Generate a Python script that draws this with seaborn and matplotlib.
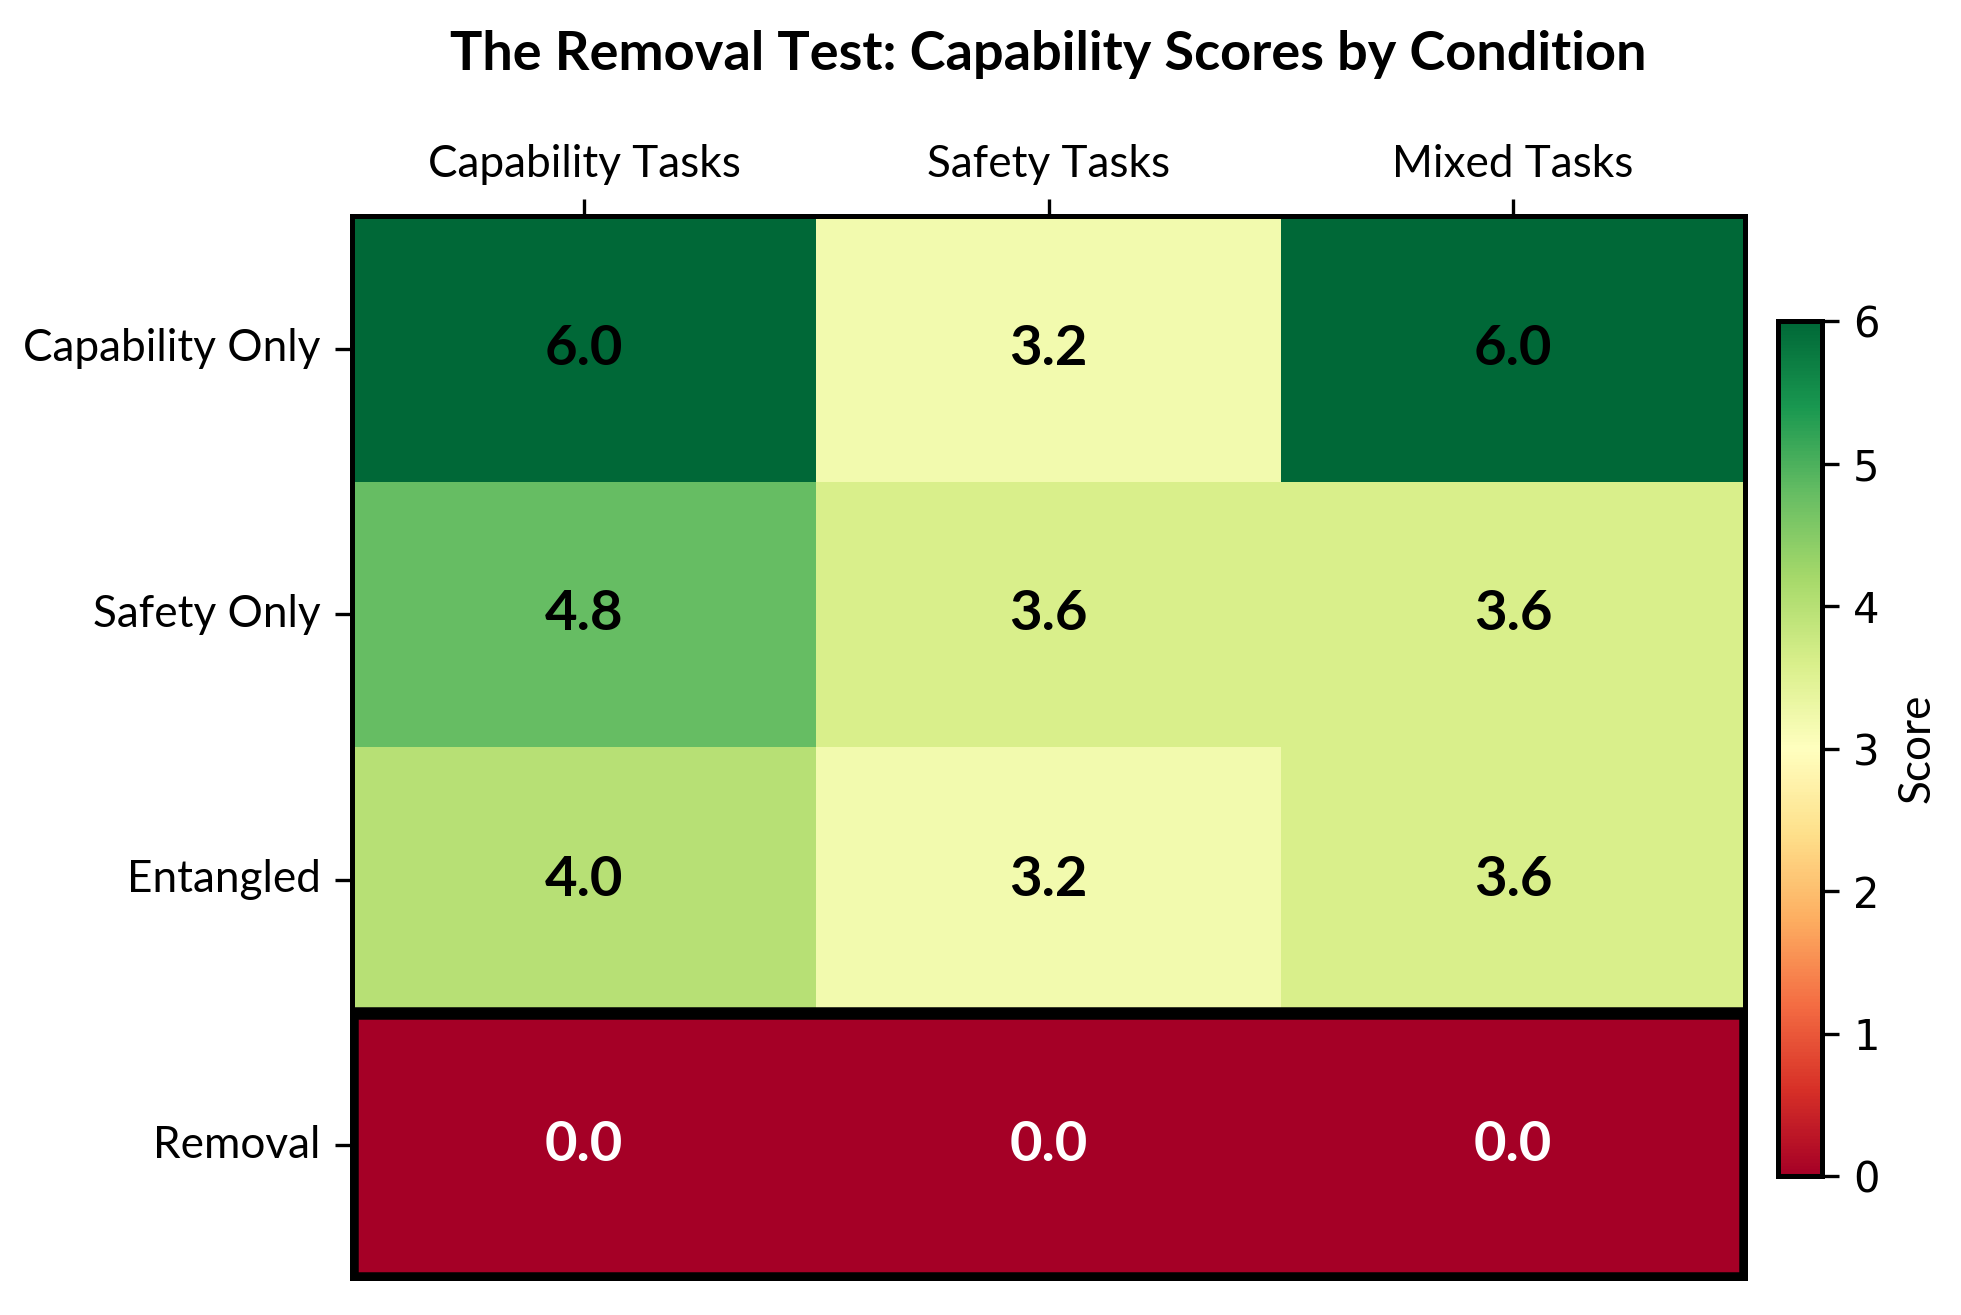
import numpy as np
import pandas as pd
import matplotlib
matplotlib.use("Agg")
import matplotlib.pyplot as plt
import seaborn as sns
from matplotlib.patches import Rectangle

conditions = ["Capability Only", "Safety Only", "Entangled", "Removal"]
tasks = ["Capability Tasks", "Safety Tasks", "Mixed Tasks"]
capability_tasks = [6.0, 4.8, 4.0, 0.0]
safety_tasks = [3.2, 3.6, 3.2, 0.0]
mixed_tasks = [6.0, 3.6, 3.6, 0.0]

df = pd.DataFrame({"Capability Tasks": capability_tasks,
                   "Safety Tasks": safety_tasks,
                   "Mixed Tasks": mixed_tasks}, index=conditions)

FONT = "Lato"

fig = plt.figure(figsize=(1961 / 300, 1315 / 300), dpi=300)
ax = fig.add_axes([0.1795, 0.0281, 0.7105, 0.8076])
cax = fig.add_axes([0.9067, 0.1057, 0.0224, 0.650])

sns.heatmap(df, ax=ax, cbar_ax=cax, cmap="RdYlGn", vmin=0, vmax=6,
            annot=True, fmt=".1f",
            annot_kws={"fontsize": 13.5, "fontweight": "bold", "color": "black",
                       "fontfamily": FONT},
            cbar_kws={"label": "Score", "ticks": [0, 1, 2, 3, 4, 5, 6]})

# white text on the removal row
for t in ax.texts:
    if t.get_text() == "0.0":
        t.set_color("white")

ax.xaxis.tick_top()
ax.set_xticklabels(tasks, fontsize=10.6, fontfamily=FONT, rotation=0)
ax.set_yticklabels(conditions, fontsize=10.6, fontfamily=FONT, rotation=0)
ax.tick_params(axis="both", length=4, width=0.8, color="black")
ax.set_xlabel("")
ax.set_ylabel("")
for s in ax.spines.values():
    s.set_visible(True)
    s.set_color("black")
    s.set_linewidth(1.2)

# highlight the removal row
ax.add_patch(Rectangle((0, 3), 3, 1, fill=False, edgecolor="black",
                       linewidth=3, clip_on=True))

ax.set_title("The Removal Test: Capability Scores by Condition",
             fontsize=13, fontweight="bold", fontfamily=FONT, pad=35)

cb = ax.collections[0].colorbar
cb.outline.set_visible(True)
cb.outline.set_linewidth(1.2)
cb.outline.set_edgecolor("black")
cax.tick_params(labelsize=10, length=4, width=0.8)
cb.set_label("Score", fontsize=10.6, fontfamily=FONT)

fig.savefig("out.png", dpi=300)
